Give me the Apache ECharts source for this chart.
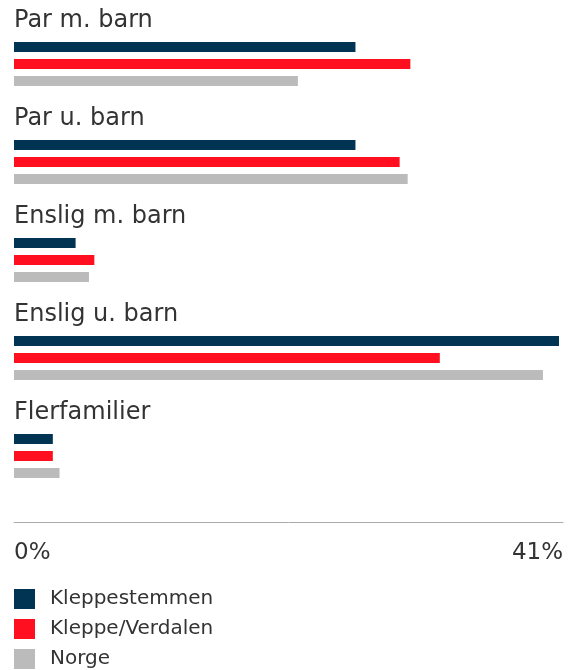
<!DOCTYPE html>
<html>
<head>
<meta charset="utf-8">
<script src="https://cdn.jsdelivr.net/npm/echarts@6/dist/echarts.min.js"></script>
<style>
html,body{margin:0;padding:0;background:#fff;}
#chart{width:573px;height:670px;}
</style>
</head>
<body>
<div id="chart"></div>
<script>
const categories = ['Par m. barn', 'Par u. barn', 'Enslig m. barn', 'Enslig u. barn', 'Flerfamilier'];
const seriesNames = ['Kleppestemmen', 'Kleppe/Verdalen', 'Norge'];
const kleppestemmen = [25.5, 25.5, 4.6, 40.7, 2.9];
const kleppeVerdalen = [29.6, 28.8, 6.0, 31.8, 2.9];
const norge = [21.2, 29.4, 5.6, 39.5, 3.4];
const axisMin = 0;
const axisMax = 41;
const colors = ['#003452', '#ff0f1f', '#bbbbbb'];
const FONT = 'DejaVu Sans';

const chart = echarts.init(document.getElementById('chart'));
const values = [kleppestemmen, kleppeVerdalen, norge];
chart.setOption({
  animation: false,
  textStyle: { fontFamily: FONT },
  grid: { left: 14, right: 10, top: 15, height: 490 },
  legend: {
    orient: 'vertical', left: 14, top: 589, padding: 0,
    icon: 'rect', itemWidth: 21, itemHeight: 20, itemGap: 10,
    textStyle: { fontFamily: FONT, fontSize: 20, color: '#333', padding: [0, 0, 0, 10] },
    data: seriesNames
  },
  xAxis: {
    type: 'value', min: axisMin, max: axisMax, interval: axisMax - axisMin,
    offset: 17,
    splitLine: { show: false },
    axisTick: { show: false },
    axisLine: { show: true, lineStyle: { color: '#aaaaaa', width: 1 } },
    axisLabel: {
      formatter: '{value}%', fontFamily: FONT, fontSize: 23, color: '#333', margin: 20,
      alignMinLabel: 'left', alignMaxLabel: 'right'
    }
  },
  yAxis: {
    type: 'category', data: categories, inverse: true,
    axisLine: { show: false }, axisTick: { show: false },
    axisLabel: { show: false }
  },
  series: seriesNames.map((n, i) => ({
    name: n, type: 'bar', data: values[i], barWidth: 10, barGap: '70%',
    itemStyle: { color: colors[i] },
    label: i === 0 ? {
      show: true, formatter: '{b}', position: [0, -21], align: 'left', verticalAlign: 'middle',
      fontFamily: FONT, fontSize: 24, color: '#333'
    } : { show: false }
  }))
});
</script>
</body>
</html>
